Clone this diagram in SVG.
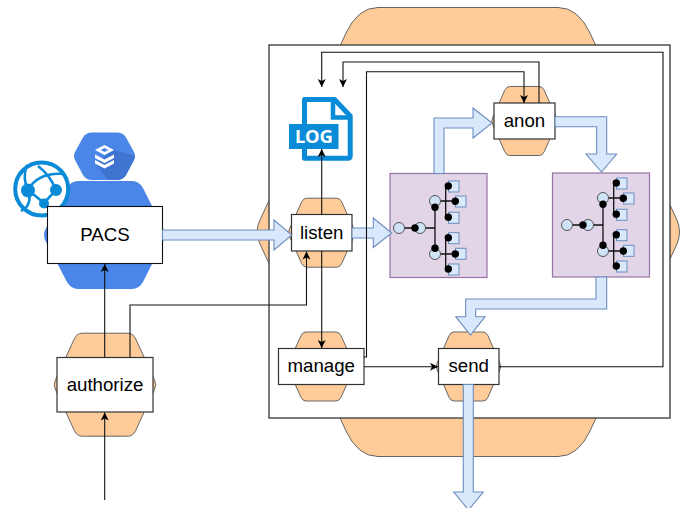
<svg xmlns="http://www.w3.org/2000/svg" xmlns:xlink="http://www.w3.org/1999/xlink" width="690" height="508" viewBox="0 0 690 508">
<style>
.hex{fill:#ffcc99;stroke:#666;stroke-width:1}
.box{fill:#fff;stroke:#333;stroke-width:1.2}
.lbl{font-family:"Liberation Sans",Arial,sans-serif;font-size:18.67px;fill:#000;text-anchor:middle}
.wire{fill:none;stroke:#111;stroke-width:1.1;marker-end:url(#ah)}
.flow{fill:#dae8fc;stroke:#6c8ebf;stroke-width:1.1}
.tl{fill:none;stroke:#111;stroke-width:1.3}
.tc{fill:#cfe4f7;stroke:#555;stroke-width:1}
.td{fill:#000}
.tr{fill:#dae8fc;stroke:#6c8ebf;stroke-width:1}
.az{fill:#0a8bd8}
</style>
<defs>
<marker id="ah" markerUnits="userSpaceOnUse" markerWidth="10" markerHeight="10" viewBox="-9 -5 10 10" refX="0" refY="0" orient="auto" overflow="visible"><path d="M0,0L-8,-4L-6,0L-8,4Z" fill="#000"/></marker>
<path id="hx" vector-effect="non-scaling-stroke" d="M-.44,-1L.44,-1Q.54,-1 .59,-.89L.95,-.1Q1,0 .95,.1L.59,.89Q.54,1 .44,1L-.44,1Q-.54,1 -.59,.89L-.95,.1Q-1,0 -.95,-.1L-.59,-.89Q-.54,-1 -.44,-1Z"/>
<g id="tree">
<path class="tl" d="M399,228H435M435,207V249M435,201H455M445.7,186V217.5M435,254H455M445.7,238V269"/>
<circle class="tc" cx="399" cy="228" r="5.5"/><circle class="tc" cx="420" cy="228" r="5.5"/>
<circle class="tc" cx="435" cy="201" r="5.5"/><circle class="tc" cx="435" cy="254" r="5.5"/>
<rect class="tr" x="448.5" y="181" width="10.5" height="11"/><rect class="tr" x="455.5" y="196" width="10.5" height="11"/><rect class="tr" x="448.5" y="212.3" width="10.5" height="11"/>
<rect class="tr" x="448.5" y="232.7" width="10.5" height="11"/><rect class="tr" x="455.5" y="248.3" width="10.5" height="11"/><rect class="tr" x="448.5" y="264" width="10.5" height="11"/>
<circle class="td" cx="415" cy="228" r="3.7"/><circle class="td" cx="435" cy="207.3" r="3.7"/><circle class="td" cx="435" cy="248.3" r="3.7"/>
<circle class="td" cx="448.3" cy="186" r="3.7"/><circle class="td" cx="455.3" cy="201.3" r="3.7"/><circle class="td" cx="448.3" cy="217.3" r="3.7"/>
<circle class="td" cx="448.3" cy="237.7" r="3.7"/><circle class="td" cx="455.3" cy="254" r="3.7"/><circle class="td" cx="448.3" cy="269" r="3.7"/>
</g>
</defs>

<g id="host">
<path d="M378,7.5H558Q578,7.5 590,33L677,220Q682,232 677,244L590,431Q578,456.5 558,456.5H378Q358,456.5 346,431L260,244Q254,232 260,220L346,33Q358,7.5 378,7.5Z" fill="#ffcc99" stroke="#666" stroke-width="1"/>
<rect x="269" y="45" width="401" height="373" fill="#fff" stroke="#444" stroke-width="1.4"/>
</g>

<g id="pacs-icons">
<path d="M92,132.5H117Q123,132.5 126,137.5L134,152Q136,156 134,160L126,175Q123,180 117,180H92Q86,180 83,175L75,160Q73,156 75,152L83,137.5Q86,132.5 92,132.5Z" fill="#4a86e8"/>
<path d="M114,150L135,156L134,160L126,175Q123,180 117,180H108L95,163Z" fill="#3f74d1"/>
<path d="M95,150L104.5,145L114,150L104.5,155Z" fill="#fff"/><path d="M100.5,150L104.5,148L108.5,150L104.5,152Z" fill="#4a86e8"/>
<path d="M95,154.5L104.5,159.5L114,154.5V158L104.5,163L95,158Z" fill="#fff"/>
<path d="M95,160L104.5,165L114,160V163.5L104.5,168.5L95,163.5Z" fill="#fff"/>
<path d="M78,181H132Q139,181 143,188L163,228Q166,235 163,242L143,282Q139,289 132,289H78Q71,289 67,282L46,242Q42,235 46,228L67,188Q71,181 78,181Z" fill="#4a86e8"/>
<g id="globe">
<circle cx="41.7" cy="189" r="26.5" fill="#fff" stroke="#0a8bd8" stroke-width="4"/>
<path d="M27,165Q22,178 28,190Q33,205 21,211M28,190L44,203Q50,209 52,214M28,190Q38,172 64,174M38,166Q50,175 56,190L44,203" fill="none" stroke="#0a8bd8" stroke-width="2.6"/>
<circle class="az" cx="28" cy="190.5" r="7"/><circle class="az" cx="56" cy="190" r="6"/><circle class="az" cx="44" cy="203.5" r="5"/>
</g>
</g>

<g id="log-icon">
<path d="M304.5,99.5H334.5L350.2,116V156Q350.2,158.2 348,158.2H304.5Q304.5,158.2 304.5,156Z" fill="#fff" stroke="#0a8bd8" stroke-width="5" stroke-linejoin="round"/>
<path d="M333,99V117.5H351" fill="none" stroke="#0a8bd8" stroke-width="4.5"/>
<rect x="289" y="124" width="49.5" height="25" class="az"/>
<text x="314" y="142.8" font-family="'Noto Sans','Open Sans',sans-serif" font-weight="700" font-size="18.5" fill="#fff" text-anchor="middle">LOG</text>
</g>

<g id="tree1"><rect x="390" y="173.5" width="97" height="104" fill="#e1d5e7" stroke="#9673a6" stroke-width="1.2"/><use xlink:href="#tree" href="#tree"/></g>
<g id="tree2"><rect x="552.5" y="173" width="97" height="104" fill="#e1d5e7" stroke="#9673a6" stroke-width="1.2"/><use xlink:href="#tree" href="#tree" transform="translate(168,-3)"/></g>

<g id="listen"><use xlink:href="#hx" href="#hx" class="hex" transform="translate(321.7,232.7) scale(34,34.5)"/><rect class="box" x="291.5" y="214.5" width="60.5" height="36.5"/><text class="lbl" x="321.7" y="238.5">listen</text></g>
<g id="anon"><use xlink:href="#hx" href="#hx" class="hex" transform="translate(524.5,121) scale(33.5,34.5)"/><rect class="box" x="494" y="103" width="61" height="36"/><text class="lbl" x="524.5" y="127">anon</text></g>
<g id="manage"><use xlink:href="#hx" href="#hx" class="hex" transform="translate(321,366.5) scale(34,34.5)"/><rect class="box" x="278.5" y="348.5" width="85.5" height="36"/><text class="lbl" x="321.2" y="372">manage</text></g>
<g id="send"><use xlink:href="#hx" href="#hx" class="hex" transform="translate(468.5,366.5) scale(33,34.5)"/><rect class="box" x="438.5" y="348.5" width="60.5" height="36"/><text class="lbl" x="468.7" y="372">send</text></g>
<g id="authorize"><use xlink:href="#hx" href="#hx" class="hex" transform="translate(105,384.7) scale(52,51.5)"/><rect class="box" x="57" y="357.5" width="96" height="54.5"/><text class="lbl" x="105" y="390.5">authorize</text></g>
<g id="pacs"><rect x="47.5" y="206.5" width="115" height="57" fill="#fff" stroke="#111" stroke-width="1.1"/><text class="lbl" x="105" y="240.5">PACS</text></g>

<g id="connectors">
<path class="flow" d="M162.5,230H274V220L291.7,235L274,250V240H162.5Z"/>
<path class="flow" d="M352,228H373.3V218L391.7,233L373.3,247.5V238H352Z"/>
<path class="flow" d="M434,173.5V118H473V108L492,123L473,138V128H444V173.5Z"/>
<path class="flow" d="M555,116.7H606.7V154H616.7L601.5,172L586,154H596.7V126.7H555Z"/>
<path class="flow" d="M606.7,277V309H475.7V316.7H485L470.5,335L455.7,316.7H465.7V299H596V277Z"/>
<path class="flow" d="M463.3,384.5V492H453.7L468.5,510L483.3,492H473.3V384.5Z"/>
<path class="wire" d="M104.7,500V412.5"/>
<path class="wire" d="M104.7,357.5V264"/>
<path class="wire" d="M130,357.5V305H306.5V251.5"/>
<path class="wire" d="M321.7,214.5V149"/>
<path class="wire" d="M321.7,251V348"/>
<path class="wire" d="M364,357H366.5V71.7H524V103"/>
<path class="wire" d="M539,103V62H343V87"/>
<path class="wire" d="M499,366.7H663V52.3H321.7V87"/>
<path class="wire" d="M364,366.7H438"/>
</g>
</svg>
